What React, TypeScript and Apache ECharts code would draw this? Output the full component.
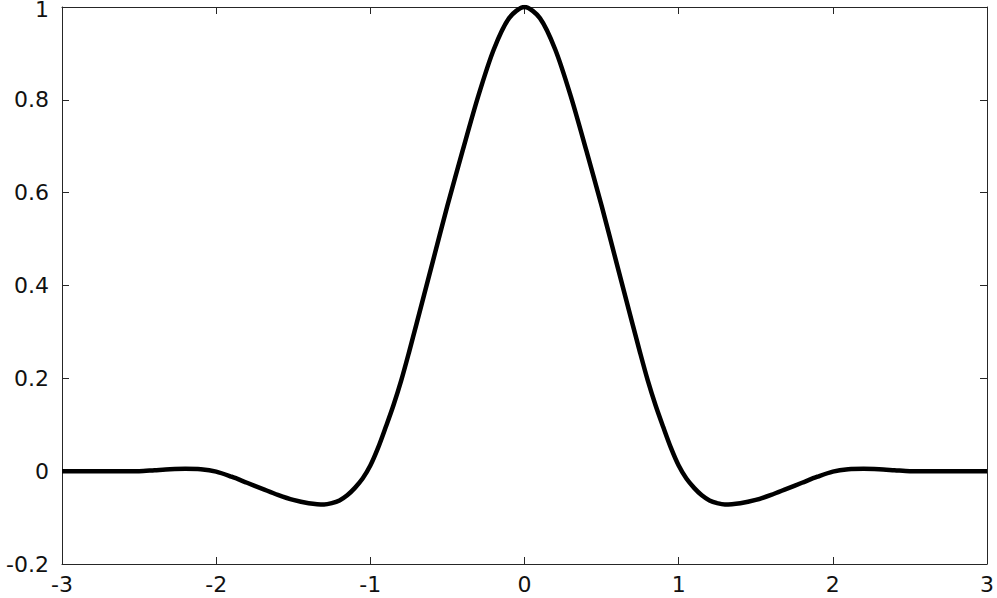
import React, { useEffect, useRef } from "react";
import * as echarts from "echarts";

// x positions (symmetric kernel)
const xValues: number[] = [
  -3.0, -2.9, -2.8, -2.7, -2.6, -2.5, -2.4, -2.3, -2.2, -2.1, -2.0, -1.9, -1.8, -1.7, -1.6, -1.5,
  -1.4, -1.3, -1.25, -1.2, -1.15, -1.1, -1.05, -1.0, -0.95, -0.9, -0.85, -0.8, -0.75, -0.7, -0.6, -0.5, -0.4, -0.3,
  -0.2, -0.1, 0.0, 0.1, 0.2, 0.3, 0.4, 0.5, 0.6, 0.7, 0.75, 0.8, 0.85, 0.9, 0.95, 1.0, 1.05, 1.1, 1.15, 1.2, 1.25,
  1.3, 1.4, 1.5, 1.6, 1.7, 1.8, 1.9, 2.0, 2.1, 2.2, 2.3, 2.4, 2.5, 2.6, 2.7, 2.8, 2.9, 3.0,
];
const yValues: number[] = [
  0.0, 0.0, 0.0, 0.0, 0.0, 0.0, 0.002, 0.004, 0.005, 0.004, -0.001, -0.012, -0.025, -0.038, -0.051, -0.062,
  -0.069, -0.072, -0.069, -0.063, -0.052, -0.036, -0.016, 0.012, 0.05, 0.095, 0.142, 0.195, 0.255, 0.318, 0.445, 0.572, 0.692, 0.808,
  0.908, 0.976, 1.0, 0.976, 0.908, 0.808, 0.692, 0.572, 0.445, 0.318, 0.255, 0.195, 0.142, 0.095, 0.05, 0.012, -0.016, -0.036, -0.052, -0.063, -0.069,
  -0.072, -0.069, -0.062, -0.051, -0.038, -0.025, -0.012, -0.001, 0.004, 0.005, 0.004, 0.002, 0.0, 0.0, 0.0, 0.0, 0.0, 0.0,
];
const xTicks: number[] = [-3, -2, -1, 0, 1, 2, 3];
const yTicks: number[] = [-0.2, 0, 0.2, 0.4, 0.6, 0.8, 1];

const AXIS_COLOR = "#262626";
const FONT = "DejaVu Sans";

export default function App() {
  const ref = useRef<HTMLDivElement>(null);
  useEffect(() => {
    if (!ref.current) return;
    const chart = echarts.init(ref.current, undefined, { renderer: "svg" });
    const data = xValues.map((x, i) => [x, yValues[i]]);
    const xBase = {
      type: "value" as const,
      min: xTicks[0],
      max: xTicks[xTicks.length - 1],
      interval: 1,
      splitLine: { show: false },
      axisLine: { show: true, onZero: false, lineStyle: { color: AXIS_COLOR, width: 1 } },
      axisTick: { show: true, inside: true, length: 7, lineStyle: { color: AXIS_COLOR, width: 1 } },
    };
    const yBase = {
      type: "value" as const,
      min: yTicks[0],
      max: yTicks[yTicks.length - 1],
      interval: 0.2,
      splitLine: { show: false },
      axisLine: { show: true, onZero: false, lineStyle: { color: AXIS_COLOR, width: 1 } },
      axisTick: { show: true, inside: true, length: 7, lineStyle: { color: AXIS_COLOR, width: 1 } },
    };
    const fmtY = (v: number) => {
      const r = Math.round(v * 10) / 10;
      return r === 1 ? "{top|1}" : String(r);
    };
    chart.setOption({
      animation: false,
      backgroundColor: "#ffffff",
      grid: { left: 62, right: 10, top: 7, bottom: 34, containLabel: false, outerBoundsMode: "none" },
      xAxis: [
        {
          ...xBase,
          position: "bottom",
          axisLabel: {
            show: true,
            color: "#111",
            fontFamily: FONT,
            fontSize: 22,
            margin: 9,
            formatter: (v: number) => String(v),
          },
        },
        { ...xBase, position: "top", axisLabel: { show: false } },
      ],
      yAxis: [
        {
          ...yBase,
          position: "left",
          axisLabel: {
            show: true,
            color: "#111",
            fontFamily: FONT,
            fontSize: 22,
            lineHeight: 16,
            margin: 13,
            formatter: fmtY,
            rich: {
              top: {
                color: "#111",
                fontFamily: FONT,
                fontSize: 22,
                lineHeight: 16,
                padding: [4, 0, 0, 0],
              },
            },
          },
        },
        { ...yBase, position: "right", axisLabel: { show: false } },
      ],
      series: [
        {
          type: "line",
          data,
          xAxisIndex: 0,
          yAxisIndex: 0,
          smooth: 0.3,
          showSymbol: false,
          lineStyle: { color: "#000", width: 4.5 },
        },
      ],
    });
    return () => chart.dispose();
  }, []);
  return (
    <div
      ref={ref}
      style={{ position: "fixed", left: 0, top: 0, width: 997, height: 598, background: "#fff" }}
    />
  );
}
